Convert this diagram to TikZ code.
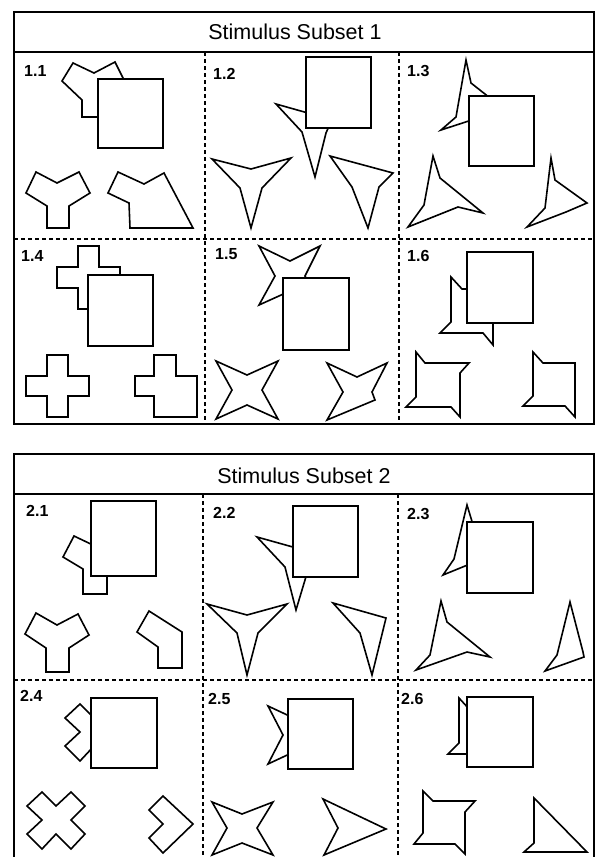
\documentclass[tikz,border=0pt]{standalone}
\usepackage{fontspec}
\setmainfont{Liberation Sans}

\tikzset{
    stim/.style={draw=black, fill=white, line width=1.6pt, line join=miter},
    blank/.style={draw=black, fill=white, line width=1.6pt},
    frame/.style={black, line width=1.6pt},
    divider/.style={black, line width=1.3pt, dash pattern=on 4pt off 3pt},
    cellnum/.style={anchor=north west, inner sep=0pt, font=\fontsize{16}{16}\selectfont\bfseries},
    heading/.style={anchor=base, inner sep=0pt, font=\fontsize{21.5}{22}\selectfont}
}

\begin{document}
\begin{tikzpicture}[x=1pt, y=-1pt]
    \useasboundingbox (0,0) rectangle (596,857);
    % Below is the frame of subset 1.
        \draw[frame] (14,12) rectangle (594,424);
        \draw[frame] (14,52) -- (594,52);
        \draw[divider] (14,239) -- (594,239);
        \draw[divider] (205,52) -- (205,424);
        \draw[divider] (399,52) -- (399,424);
        \node[heading] (t1) at (295,39) {Stimulus Subset 1};
    % Below is the frame of subset 2.
        \draw[frame] (14,857) -- (14,454) -- (594,454) -- (594,857);
        \draw[frame] (14,494) -- (594,494);
        \draw[divider] (14,680) -- (594,680);
        \draw[divider] (203,494) -- (203,857);
        \draw[divider] (398,494) -- (398,857);
        \node[heading] (t2) at (304,483) {Stimulus Subset 2};
    % Cell 1.1
        \node[cellnum] (n11) at (24,65) {1.1};
        \draw[stim] (62,81) -- (73,63) -- (94,73) -- (115,62) -- (123,78) -- (112,95) -- (104,100) -- (104,117) -- (82,117) -- (82,100) -- cycle;
        \draw[blank] (98,79) rectangle (163,148);
        \draw[stim] (26,193) -- (36,172) -- (57,183) -- (79,172) -- (90,193) -- (69,206) -- (69,228) -- (47,228) -- (47,206) -- cycle;
        \draw[stim] (108,193) -- (118,172) -- (144,184) -- (164,173) -- (193,228) -- (130,228) -- (129,203) -- cycle;
    % Cell 1.2
        \node[cellnum] (n12) at (213,68) {1.2};
        \draw[stim] (276,104) -- (315,115) -- (330,124) -- (326,133) -- (315,177) -- (302,132) -- cycle;
        \draw[blank] (306,57) rectangle (371,128);
        \draw[stim] (212,159) -- (251,169) -- (291,158) -- (262,188) -- (251,228) -- (240,188) -- cycle;
        \draw[stim] (330,156) -- (393,173) -- (379,187) -- (368,228) -- (352,187) -- cycle;
    % Cell 1.3
        \node[cellnum] (n13) at (407,65) {1.3};
        \draw[stim] (466,60) -- (471,83) -- (490,98) -- (478,118) -- (441,130) -- (456,117) -- cycle;
        \draw[blank] (469,96) rectangle (534,166);
        \draw[stim] (433,156) -- (440,178) -- (483,213) -- (458,207) -- (408,227) -- (424,205) -- cycle;
        \draw[stim] (551,158) -- (555,180) -- (587,203) -- (566,212) -- (527,227) -- (545,208) -- cycle;
    % Cell 1.4
        \node[cellnum] (n14) at (21,250) {1.4};
        \draw[stim] (78,246) -- (99,246) -- (99,267) -- (120,267) -- (120,288) -- (99,288) -- (99,309) -- (78,309) -- (78,288) -- (57,288) -- (57,267) -- (78,267) -- cycle;
        \draw[blank] (88,275) rectangle (153,346);
        \draw[stim] (47,355) -- (68,355) -- (68,376) -- (89,376) -- (89,396) -- (68,396) -- (68,417) -- (47,417) -- (47,396) -- (26,396) -- (26,376) -- (47,376) -- cycle;
        \draw[stim] (154,355) -- (176,355) -- (176,376) -- (197,376) -- (197,417) -- (154,417) -- (154,396) -- (135,396) -- (135,376) -- (154,376) -- cycle;
    % Cell 1.5
        \node[cellnum] (n15) at (215,248) {1.5};
        \draw[stim] (259,246) -- (290,261) -- (320,246) -- (305,276) -- (320,305) -- (290,291) -- (259,305) -- (275,276) -- cycle;
        \draw[blank] (283,278) rectangle (349,350);
        \draw[stim] (216,361) -- (247,375) -- (278,361) -- (262,390) -- (278,419) -- (247,405) -- (216,419) -- (232,390) -- cycle;
        \draw[stim] (327,363) -- (357,377) -- (387,363) -- (372,392) -- (375,400) -- (327,420) -- (343,392) -- cycle;
    % Cell 1.6
        \node[cellnum] (n16) at (407,250) {1.6};
        \draw[stim] (451,277) -- (462,289) -- (505,289) -- (493,300) -- (493,345) -- (483,333) -- (440,333) -- (451,322) -- cycle;
        \draw[blank] (467,252) rectangle (533,323);
        \draw[stim] (416,352) -- (425,363) -- (469,363) -- (460,373) -- (460,417) -- (451,407) -- (406,407) -- (416,397) -- cycle;
        \draw[stim] (533,352) -- (543,363) -- (575,363) -- (575,417) -- (565,406) -- (523,406) -- (533,396) -- cycle;
    % Cell 2.1
        \node[cellnum] (n21) at (26,505) {2.1};
        \draw[stim] (74,536) -- (95,546) -- (107,560) -- (107,594) -- (83,594) -- (83,569) -- (63,557) -- cycle;
        \draw[blank] (91,501) rectangle (156,576);
        \draw[stim] (36,613) -- (57,625) -- (78,614) -- (89,635) -- (69,648) -- (69,672) -- (46,672) -- (46,648) -- (25,634) -- cycle;
        \draw[stim] (149,611) -- (182,632) -- (182,668) -- (158,668) -- (158,647) -- (137,632) -- cycle;
    % Cell 2.2
        \node[cellnum] (n22) at (213,507) {2.2};
        \draw[stim] (257,537) -- (300,549) -- (308,570) -- (296,610) -- (285,567) -- cycle;
        \draw[blank] (293,506) rectangle (358,577);
        \draw[stim] (207,604) -- (247,615) -- (287,604) -- (258,633) -- (247,675) -- (237,633) -- cycle;
        \draw[stim] (333,603) -- (386,618) -- (372,675) -- (360,633) -- cycle;
    % Cell 2.3
        \node[cellnum] (n23) at (407,508) {2.3};
        \draw[stim] (467,505) -- (474,528) -- (480,545) -- (470,564) -- (443,575) -- (454,559) -- cycle;
        \draw[blank] (467,522) rectangle (533,593);
        \draw[stim] (441,601) -- (447,622) -- (490,657) -- (467,652) -- (416,670) -- (430,655) -- cycle;
        \draw[stim] (570,602) -- (583,652) -- (584,657) -- (545,671) -- (557,655) -- cycle;
    % Cell 2.4
        \node[cellnum] (n24) at (20,690) {2.4};
        \draw[stim] (80,704) -- (94,718) -- (109,704) -- (123,718) -- (109,732) -- (123,746) -- (109,761) -- (94,746) -- (80,761) -- (65,746) -- (80,732) -- (65,718) -- cycle;
        \draw[blank] (91,698) rectangle (157,768);
        \draw[stim] (42,792) -- (56,806) -- (71,792) -- (85,806) -- (71,820) -- (85,834) -- (71,849) -- (56,834) -- (42,849) -- (27,834) -- (42,820) -- (27,806) -- cycle;
        \draw[stim] (163,796) -- (193,824) -- (163,853) -- (149,838) -- (163,824) -- (149,810) -- cycle;
    % Cell 2.5
        \node[cellnum] (n25) at (208,693) {2.5};
        \draw[stim] (268,706) -- (298,720) -- (327,706) -- (313,735) -- (327,764) -- (298,750) -- (268,764) -- (283,735) -- cycle;
        \draw[blank] (288,699) rectangle (353,769);
        \draw[stim] (212,802) -- (242,814) -- (273,802) -- (257,828) -- (273,855) -- (242,843) -- (212,855) -- (227,828) -- cycle;
        \draw[stim] (323,799) -- (386,829) -- (324,855) -- (338,828) -- cycle;
    % Cell 2.6
        \node[cellnum] (n26) at (401,693) {2.6};
        \draw[stim] (459,698) -- (470,710) -- (513,710) -- (501,721) -- (501,765) -- (491,754) -- (448,754) -- (459,743) -- cycle;
        \draw[blank] (467,697) rectangle (533,767);
        \draw[stim] (423,791) -- (433,801) -- (475,801) -- (465,812) -- (465,854) -- (455,844) -- (414,844) -- (423,833) -- cycle;
        \draw[stim] (534,798) -- (587,852) -- (524,852) -- (534,843) -- cycle;
\end{tikzpicture}
\end{document}
